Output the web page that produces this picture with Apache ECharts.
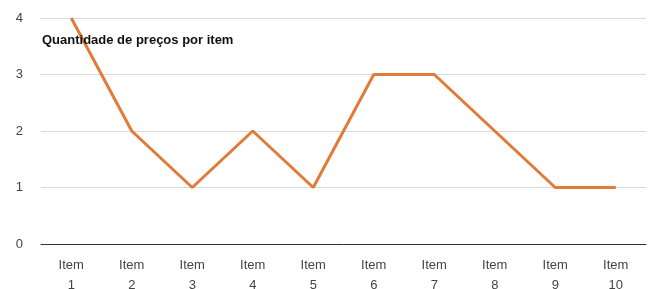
<!DOCTYPE html>
<html><head><meta charset="utf-8">
<script src="https://cdn.jsdelivr.net/npm/echarts@6/dist/echarts.min.js"></script>
<style>html,body{margin:0;padding:0;background:#fff}#c{width:650px;height:289px}</style>
</head><body><div id="c"></div>
<script>
var categories = ['Item 1','Item 2','Item 3','Item 4','Item 5','Item 6','Item 7','Item 8','Item 9','Item 10'];
var values = [4,2,1,2,1,3,3,2,1,1];
var titleText = 'Quantidade de preços por item';
var chart = echarts.init(document.getElementById('c'));
chart.setOption({
  animation:false,
  title:{text:titleText,left:37,top:29,textStyle:{fontFamily:'Liberation Sans, Arial',fontSize:13,fontWeight:'bold',color:'#111'}},
  grid:{left:41,right:4,top:18,bottom:45,outerBoundsMode:'none',containLabel:false},
  xAxis:{type:'category',data:categories,boundaryGap:true,
    axisLine:{lineStyle:{color:'#333',width:1}},axisTick:{show:false},
    axisLabel:{interval:0,color:'#444',fontFamily:'Liberation Sans, Arial',fontSize:13,lineHeight:20,margin:11,
      formatter:function(v){return v.replace(' ','\n');}}},
  yAxis:{type:'value',min:0,max:4,interval:1,
    axisLine:{show:false},axisTick:{show:false},
    splitLine:{lineStyle:{color:'#d9d9d9',width:1}},
    axisLabel:{color:'#444',fontFamily:'Liberation Sans, Arial',fontSize:13,margin:18}},
  series:[{type:'line',data:values,symbol:'none',lineStyle:{color:'#E07B39',width:3},itemStyle:{color:'#E07B39'}}]
});
</script></body></html>
